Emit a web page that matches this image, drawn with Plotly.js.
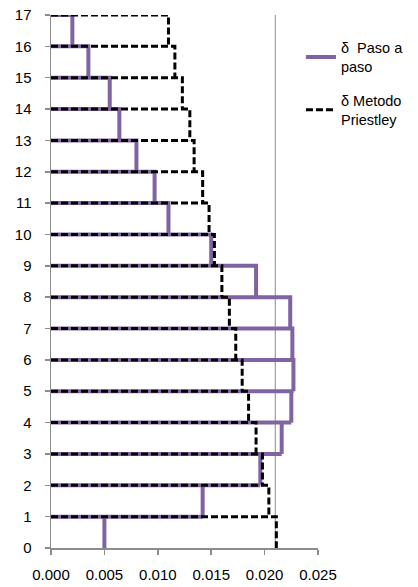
<!DOCTYPE html>
<html>
<head>
<meta charset="utf-8">
<script src="https://cdn.plot.ly/plotly-3.0.1.min.js"></script>
<style>
  html, body { margin: 0; padding: 0; background: #fff; }
  #chart { width: 418px; height: 587px; }
</style>
</head>
<body>
<div id="chart"></div>
<script>
// Storeys 1..17 (index 0 = storey 1)
const storeys = [1,2,3,4,5,6,7,8,9,10,11,12,13,14,15,16,17];
const pasoAPaso = [0.0050, 0.0142, 0.0196, 0.0216, 0.0225, 0.0227, 0.0226, 0.0224, 0.0192,
                   0.0150, 0.0110, 0.0097, 0.0080, 0.0064, 0.0055, 0.0035, 0.0020];
const priestley = [0.0211, 0.0204, 0.0198, 0.0192, 0.0185, 0.0179, 0.0173, 0.0167, 0.0160,
                   0.0153, 0.0148, 0.0142, 0.0134, 0.0130, 0.0123, 0.0116, 0.0110];
const limitValue = 0.0210;
const seriesNames = ['δ  Paso a<br>paso', 'δ Metodo<br>Priestley'];
const xTicks = [0, 0.005, 0.010, 0.015, 0.020, 0.025];

// Storey drift drawn as a step: horizontal at each level reaching the larger of the
// storeys above/below, vertical at the storey's value between its two levels.
function stepPath(vals) {
  const xs = [], ys = [];
  const n = storeys.length;
  for (let i = n - 1; i >= 0; i--) {
    const s = storeys[i], v = vals[i];
    const above = i + 1 < n ? vals[i + 1] : 0;
    const h = Math.max(v, above);
    xs.push(0, h); ys.push(s, s);
    if (h === v) {
      xs.push(v); ys.push(s - 1);
      xs.push(null); ys.push(null);
    } else {
      xs.push(null, v, v, null); ys.push(null, s, s - 1, null);
    }
  }
  return {x: xs, y: ys};
}

const p1 = stepPath(pasoAPaso);
const p2 = stepPath(priestley);
const topStorey = storeys[storeys.length - 1];

const data = [
  {x: [limitValue, limitValue], y: [0, topStorey], mode: 'lines', showlegend: false,
   line: {color: '#8c8c8c', width: 1}, hoverinfo: 'skip'},
  {x: p1.x, y: p1.y, mode: 'lines', name: seriesNames[0], legendgroup: 'a',
   connectgaps: false, line: {color: '#8064a2', width: 4}},
  {x: p2.x, y: p2.y, mode: 'lines', name: seriesNames[1], legendgroup: 'b',
   connectgaps: false, line: {color: '#000000', width: 3, dash: '7px,3px'}}
];

const axisFont = {family: 'Liberation Sans, Arial, sans-serif', size: 15, color: '#000'};

const layout = {
  width: 418, height: 587,
  margin: {l: 51, r: 100, t: 15, b: 39, pad: 0, autoexpand: false},
  paper_bgcolor: '#fff', plot_bgcolor: '#fff',
  showlegend: true,
  legend: {xref: 'container', yref: 'container', x: 0.72, y: 0.946,
           xanchor: 'left', yanchor: 'top', traceorder: 'grouped',
           font: {family: 'Liberation Sans, Arial, sans-serif', size: 14.5, color: '#000'},
           tracegroupgap: 12, bgcolor: 'rgba(0,0,0,0)'},
  xaxis: {range: [0, 0.025], tickvals: xTicks, tickformat: '.3f',
          showgrid: false, zeroline: false, showline: true, linecolor: '#8c8c8c', linewidth: 1.5,
          ticks: 'outside', ticklen: 5, tickcolor: '#8c8c8c', tickwidth: 1.5,
          tickfont: axisFont, ticklabelstandoff: 7, automargin: false},
  yaxis: {range: [0, 17], dtick: 1, tick0: 0,
          showgrid: false, zeroline: false, showline: true, linecolor: '#8c8c8c', linewidth: 1.5,
          ticks: 'outside', ticklen: 5, tickcolor: '#8c8c8c', tickwidth: 1.5,
          tickfont: axisFont, ticklabelstandoff: 10, automargin: false}
};

Plotly.newPlot('chart', data, layout, {displayModeBar: false, staticPlot: true});
</script>
</body>
</html>
